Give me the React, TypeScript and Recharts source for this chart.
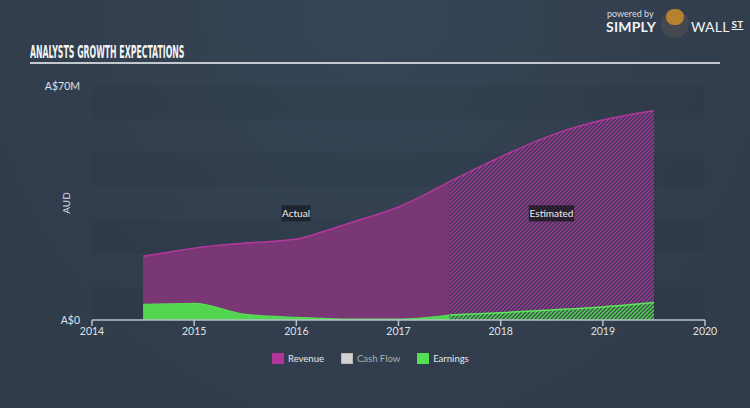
import React from 'react';
import { AreaChart, Area, XAxis, YAxis, CartesianGrid, ReferenceArea } from 'recharts';

const years = [2014.5, 2014.75, 2015, 2015.5, 2016, 2016.25, 2016.5, 2017, 2017.5, 2018, 2018.5, 2019, 2019.5];
const revenueActual = [19.1, 20.3, 21.5, 23.0, 24.2, 26.3, 28.8, 33.8, 41.4, null, null, null, null];
const revenueEstimate = [null, null, null, null, null, null, null, null, 41.4, 48.8, 55.3, 59.8, 62.6];
const earningsActual = [4.7, 4.8, 5.0, 1.7, 0.8, 0.5, 0.3, 0.3, 1.5, null, null, null, null];
const earningsEstimate = [null, null, null, null, null, null, null, null, 1.5, 2.2, 3.0, 3.9, 5.2];

const xTicks = [2014, 2015, 2016, 2017, 2018, 2019, 2020];
const yTicks = [0, 10, 20, 30, 40, 50, 60, 70];
const yLabels: Record<number, string> = { 0: 'A$0', 70: 'A$70M' };

const legendItems = [
  { name: 'Revenue', color: '#b0349a', text: '#e6e8ea' },
  { name: 'Cash Flow', color: '#d2d2d2', text: '#a8b0b8' },
  { name: 'Earnings', color: '#52df52', text: '#e6e8ea' },
];

const data = years.map((x, i) => ({
  x,
  revA: revenueActual[i],
  revE: revenueEstimate[i],
  earnA: earningsActual[i],
  earnE: earningsEstimate[i],
}));

const FONT = 'Lato, "Open Sans", sans-serif';

export default function App() {
  return (
    <div
      style={{
        position: 'absolute',
        left: 0,
        top: 0,
        width: 750,
        height: 408,
        overflow: 'hidden',
        background: 'radial-gradient(ellipse at 50% 0%, #374556 0%, #323e4d 60%, #303b49 100%)',
        fontFamily: FONT,
      }}
    >
      {/* Title */}
      <div
        style={{
          position: 'absolute',
          left: 30,
          top: 43,
          color: '#f2f4f6',
          fontFamily: '"Liberation Sans Narrow", "DejaVu Sans Condensed", sans-serif',
          fontWeight: 'bold',
          fontSize: 17,
          lineHeight: '18px',
          transform: 'scaleX(0.51)',
          transformOrigin: 'left top',
          whiteSpace: 'nowrap',
        }}
      >
        ANALYSTS GROWTH EXPECTATIONS
      </div>
      <div style={{ position: 'absolute', left: 30, top: 62, width: 690, height: 2, background: '#c3c9cf' }} />

      {/* Logo */}
      <div style={{ position: 'absolute', left: 607, top: 8, color: '#d8dde2', fontSize: 9, fontFamily: FONT }}>powered by</div>
      <div style={{ position: 'absolute', left: 606, top: 18, color: '#f0f2f4', fontSize: 14, fontWeight: 'bold', fontFamily: FONT, letterSpacing: 0.2 }}>SIMPLY</div>
      <div style={{ position: 'absolute', left: 661, top: 10, width: 28, height: 28, borderRadius: 14, background: '#45484e' }} />
      <div style={{ position: 'absolute', left: 666, top: 9, width: 18, height: 16, borderRadius: 8, background: '#b8812e' }} />
      <div style={{ position: 'absolute', left: 691, top: 18, color: '#f0f2f4', fontSize: 14, fontFamily: FONT, letterSpacing: 0.2 }}>
        WALL<span style={{ fontSize: 10, fontWeight: 'bold', textDecoration: 'underline', marginLeft: 2, verticalAlign: 'top' }}>ST</span>
      </div>

      {/* AUD axis label */}
      <div
        style={{
          position: 'absolute',
          left: 66,
          top: 203,
          color: '#d8dde2',
          fontSize: 10,
          transform: 'translate(-50%, -50%) rotate(-90deg)',
          whiteSpace: 'nowrap',
        }}
      >
        AUD
      </div>

      <div style={{ position: 'absolute', left: 0, top: 0 }}>
        <AreaChart width={750} height={408} data={data} margin={{ top: 86, right: 45, left: 0, bottom: 58 }}>
          <defs>
            <pattern id="hatchRev" patternUnits="userSpaceOnUse" width="4" height="4">
              <rect width="4" height="4" fill="#3c3655" />
              <path d="M-1,1 l2,-2 M0,4 l4,-4 M3,5 l2,-2" stroke="#a13c96" strokeWidth="1.3" />
            </pattern>
            <pattern id="hatchEarn" patternUnits="userSpaceOnUse" width="4" height="4">
              <rect width="4" height="4" fill="#3a5249" />
              <path d="M-1,1 l2,-2 M0,4 l4,-4 M3,5 l2,-2" stroke="#55d455" strokeWidth="1.4" />
            </pattern>
          </defs>
          <CartesianGrid
            vertical={false}
            stroke="none"
            horizontalFill={['rgba(0,0,0,0.045)', 'rgba(0,0,0,0)']}
          />
          <XAxis
            dataKey="x"
            type="number"
            domain={[2014, 2020]}
            ticks={xTicks}
            height={30}
            axisLine={{ stroke: '#b8c0c8', strokeWidth: 1.5 }}
            tickLine={{ stroke: '#b8c0c8', strokeWidth: 1.5 }}
            tickSize={6}
            tick={{ fill: '#dde2e6', fontSize: 10.5, fontFamily: FONT }}
            tickMargin={2}
          />
          <YAxis
            type="number"
            domain={[0, 70]}
            ticks={yTicks}
            width={92}
            axisLine={false}
            tickLine={false}
            tickMargin={6}
            interval={0}
            tickFormatter={(v: number) => yLabels[v] ?? ''}
            tick={{ fill: '#dde2e6', fontSize: 10.5, fontFamily: FONT }}
          />
          <Area
            type="monotone"
            dataKey="revA"
            stroke="#b5379e"
            strokeWidth={1.5}
            fill="#7a3775"
            fillOpacity={1}
            connectNulls={false}
            isAnimationActive={false}
            dot={false}
            activeDot={false}
          />
          <Area
            type="monotone"
            dataKey="revE"
            stroke="#b5379e"
            strokeWidth={1.5}
            fill="url(#hatchRev)"
            fillOpacity={1}
            connectNulls={false}
            isAnimationActive={false}
            dot={false}
            activeDot={false}
          />
          <Area
            type="monotone"
            dataKey="earnA"
            stroke="#55dc55"
            strokeWidth={1.2}
            fill="#52d652"
            fillOpacity={1}
            connectNulls={false}
            isAnimationActive={false}
            dot={false}
            activeDot={false}
          />
          <Area
            type="monotone"
            dataKey="earnE"
            stroke="#5ce85c"
            strokeWidth={1.5}
            fill="url(#hatchEarn)"
            fillOpacity={1}
            connectNulls={false}
            isAnimationActive={false}
            dot={false}
            activeDot={false}
          />
          <ReferenceArea
            x1={2015.855}
            x2={2016.14}
            y1={29.5}
            y2={34.3}
            fill="#1e252e"
            fillOpacity={1}
            stroke="none"
            ifOverflow="visible"
            label={{ value: 'Actual', position: 'center', fill: '#f0f0f0', fontSize: 10, fontFamily: FONT }}
          />
          <ReferenceArea
            x1={2018.275}
            x2={2018.72}
            y1={29.5}
            y2={34.3}
            fill="#2a1f2e"
            fillOpacity={1}
            stroke="none"
            ifOverflow="visible"
            label={{ value: 'Estimated', position: 'center', fill: '#f0f0f0', fontSize: 10, fontFamily: FONT }}
          />
        </AreaChart>
      </div>

      {/* Legend */}
      <div
        style={{
          position: 'absolute',
          left: 272,
          top: 353,
          display: 'flex',
          alignItems: 'center',
          fontSize: 9.5,
          fontFamily: FONT,
        }}
      >
        {legendItems.map((it, i) => (
          <div key={it.name} style={{ display: 'flex', alignItems: 'center', marginRight: i < legendItems.length - 1 ? 17 : 0 }}>
            <div style={{ width: 12, height: 11, background: it.color, marginRight: 4, boxSizing: 'border-box', border: it.name === 'Cash Flow' ? '1px solid #b8b8b8' : 'none' }} />
            <span style={{ color: it.text }}>{it.name}</span>
          </div>
        ))}
      </div>
    </div>
  );
}
